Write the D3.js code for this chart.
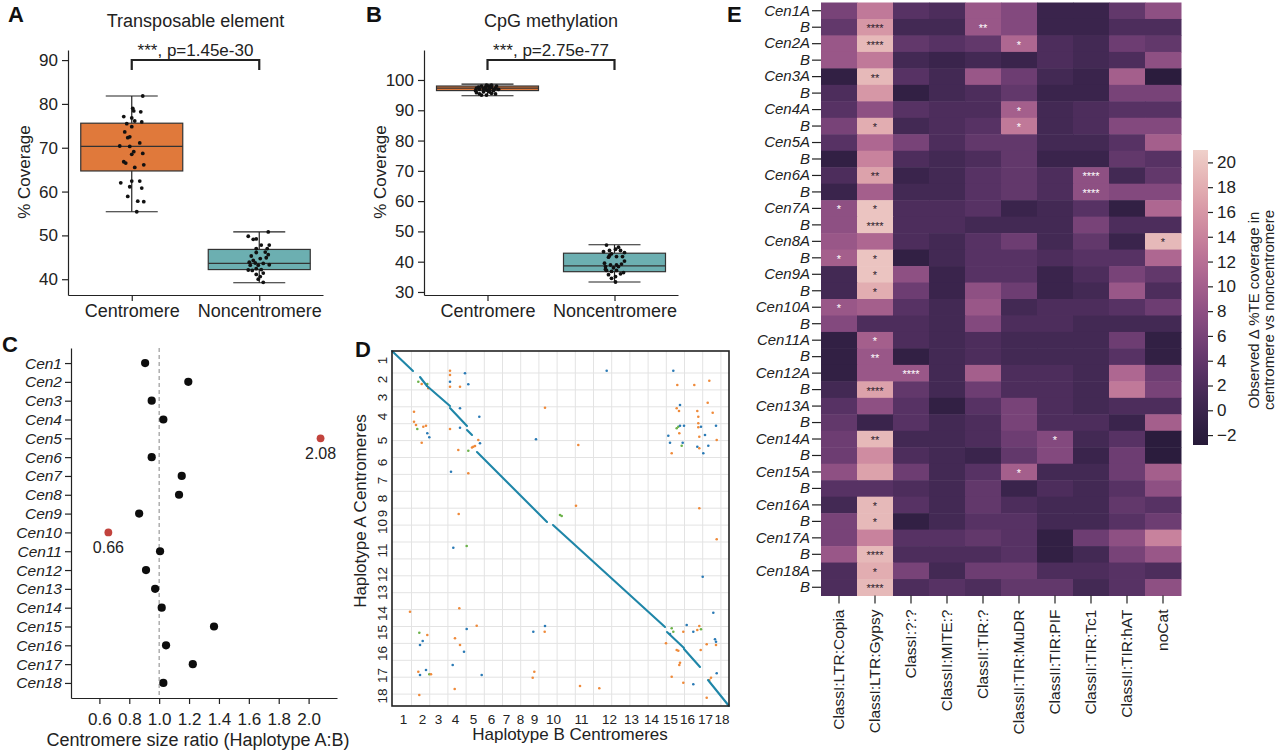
<!DOCTYPE html>
<html>
<head>
<meta charset="utf-8">
<script src="https://cdn.jsdelivr.net/npm/d3@7"></script>
<style>
  body { margin: 0; background: #fff; }
  svg { font-family: "Liberation Sans", Arial, sans-serif; }
</style>
</head>
<body>
<svg id="fig" width="1280" height="755"></svg>
<script>
// ---- data : panels A and B (box plots) ----
const groups = ["Centromere", "Noncentromere"];
// [low whisker, Q1, median, Q3, high whisker]
const teStats = [[55.4, 64.7, 70.3, 75.6, 81.8], [39.2, 42.2, 43.6, 46.8, 50.8]];
const cpgStats = [[94.8, 96.5, 97.3, 98.0, 98.6], [33.3, 36.7, 38.6, 42.8, 45.6]];

const teCenVals = [81.8, 79.0, 78.4, 78.2, 77.1, 76.8, 76.1, 75.9, 75.5, 74.8, 73.6, 72.5, 72.3, 71.1, 70.4, 70.3,
  69.1, 68.5, 68.7, 66.8, 66.5, 65.5, 66.1, 62.0, 62.4, 62.4, 61.1, 60.8, 58.9, 57.8, 57.7, 55.4];
const teCenJit = [11, 1, 2, 9, -8, 0, 3, 10, -5, 0, -7, -2, -4, 8, -12, -2, 2, 0, 11, -8, -6, 3, 12, -11, 0, 8, -2, 10, -4, 6, 12, 5];
const teNonVals = [50.8, 49.8, 49.1, 49.2, 47.8, 47.8, 47.0, 47.0, 46.2, 46.1, 45.6, 44.7, 43.9, 43.7, 43.6, 43.2,
  43.2, 43.3, 42.4, 42.2, 42.1, 42.0, 41.4, 41.1, 40.6, 40.0, 39.3, 44.3, 44.9, 45.3];
const teNonJit = [9, -11, -6, -3, 2, 10, -3, 8, 6, -3, 9, 1, -10, -4, 4, -9, -1, 10, -3, 2, -11, -7, 4, -3, 1, -1, 4, -6, 7, -8];

const cpgCenVals = [96.5, 97.6, 98.0, 97.6, 98.0, 97.6, 97.3, 98.0, 95.8, 95.4, 96.1, 96.7, 96.1, 96.5, 95.0, 95.0,
  95.6, 95.4, 96.9, 97.1, 97.1, 96.7, 96.9, 97.3, 98.3, 98.3];
const cpgCenJit = [-12, -9, -6, -2, 1, 4, 8, 9, -11, -8, -4, -1, 2, 6, -6, -1, 4, 8, -8, -4, 2, 6, 11, -11, -1, 4];
const cpgNonVals = [45.5, 43.3, 43.7, 44.1, 43.7, 43.0, 42.6, 41.7, 41.7, 41.5, 39.5, 38.9, 38.9, 39.2, 38.4, 38.0,
  38.4, 37.1, 36.8, 37.1, 36.4, 35.7, 35.1, 34.5, 33.3, 36.0, 37.5, 40.2, 42.0, 44.8];
const cpgNonJit = [-8, -11, -5, 1, 6, 10, -3, 2, 8, -6, -10, -4, 2, 7, -9, -1, 4, -8, -3, 2, 9, -6, 1, -3, 1, 6, -9, 10, -5, 4];

// ---- data : panel C ----
const cenNames = ["Cen1", "Cen2", "Cen3", "Cen4", "Cen5", "Cen6", "Cen7", "Cen8", "Cen9", "Cen10",
  "Cen11", "Cen12", "Cen13", "Cen14", "Cen15", "Cen16", "Cen17", "Cen18"];
const sizeRatio = [0.906, 1.195, 0.95, 1.028, 2.08, 0.95, 1.151, 1.133, 0.866, 0.66,
  1.006, 0.912, 0.973, 1.017, 1.367, 1.046, 1.225, 1.028];
const ratioOutliers = ["Cen5", "Cen10"];
const ratioTicks = [0.6, 0.8, 1.0, 1.2, 1.4, 1.6, 1.8, 2.0];

// ---- data : panel D (dot plot, positions in arbitrary genome units) ----
const hapBSizes = [22, 16, 16, 18, 18, 18, 12, 16, 12, 26, 30, 26, 18, 22, 16, 18, 18, 15];
const hapASizes = [18, 20, 16, 22, 26, 18, 18, 18, 12, 14, 34, 14, 22, 20, 18, 24, 20, 21];
// main alignment segments [bStart, aStart, bEnd, aEnd]
const diagSegs = [[0, 0, 21, 20], [28, 26, 35, 35], [35, 35, 58, 55], [58, 57, 75, 75], [75, 79, 80, 84],
  [85, 101, 155, 171], [161, 174, 273, 276], [275, 281, 292, 297], [292, 298, 308, 316], [316, 329, 337, 355]];
// off-diagonal hits [b, a, type] (b = blue, o = orange, g = green)
const offDots = [
  [58, 19.7, "o"], [73, 22.3, "b"], [58, 24, "o"], [58, 30.7, "b"], [76.3, 33.3, "b"], [58, 35.7, "o"], [68, 35.7, "o"],
  [26.3, 30.7, "g"], [29.7, 33, "o"], [35.3, 33, "g"], [36.3, 37.3, "o"], [22, 60.7, "o"], [22, 70.7, "o"], [24, 74, "o"],
  [25.3, 78, "g"], [34, 74.7, "o"], [31.3, 75.7, "o"], [35.3, 82.3, "b"], [37.3, 86.3, "b"], [29.7, 91.7, "o"],
  [68, 57.3, "b"], [87.3, 65.7, "b"], [68, 76.7, "b"], [58, 78, "o"], [86.3, 89, "o"], [88, 92.3, "b"],
  [81.3, 95.7, "o"], [83, 95, "o"], [80, 96.5, "o"], [66.3, 99, "o"], [76.3, 99.7, "g"], [76.3, 122.3, "o"], [59, 120.7, "b"],
  [153, 56.7, "o"], [144, 88.3, "b"], [186.3, 94, "o"], [214.7, 19.7, "b"], [184, 154.7, "o"], [168, 164, "g"], [169.7, 165, "g"],
  [281.3, 19.7, "b"], [285.3, 34, "o"], [302.3, 34, "o"], [317.3, 29.7, "o"], [315.7, 51.7, "o"], [320.7, 61.7, "o"],
  [288, 54, "b"], [284.7, 57.3, "o"], [287, 60, "o"], [305.3, 60, "o"], [276.3, 84.7, "b"], [278, 91.7, "b"], [279.7, 102.3, "o"],
  [284.7, 77.3, "g"], [286.3, 75.7, "g"], [288, 74.7, "b"], [292, 74.7, "b"], [287.3, 82.3, "o"], [290.7, 91.7, "b"],
  [289.7, 94.7, "g"], [306.3, 65.7, "o"], [306.3, 72.3, "o"], [306.3, 76.3, "o"], [309, 75.7, "b"], [313, 84, "b"],
  [307.3, 85.7, "o"], [305.3, 95.7, "b"], [307.3, 97.3, "o"], [311.3, 102.3, "b"], [316.3, 94.7, "b"], [324, 74.7, "b"],
  [324.7, 89, "o"], [307.3, 157.3, "o"], [324.7, 188.3, "o"], [310.7, 225.7, "b"], [321.3, 261.7, "b"],
  [74.7, 195, "g"], [61.3, 196.7, "b"], [66.7, 163, "o"], [18, 260.7, "o"], [67.3, 257.3, "o"], [84.7, 274.7, "o"],
  [74.7, 278, "b"], [63, 287.3, "o"], [68, 294, "o"], [72, 300.7, "b"], [60.7, 314, "b"], [62.7, 338, "o"], [89.7, 324, "b"],
  [27.3, 281.7, "g"], [28, 294, "b"], [30.7, 290, "b"], [35.3, 284, "o"], [26.3, 320.7, "o"], [28, 324, "b"], [34, 319, "b"],
  [37.3, 323.3, "g"], [39, 323.3, "o"], [27.3, 344, "o"], [141.3, 280.7, "b"], [153, 275, "b"], [152.7, 280.7, "o"],
  [142.3, 320.7, "o"], [140.7, 326.7, "o"], [188, 335, "o"], [207.3, 337.3, "o"], [279.7, 277.3, "g"], [281.3, 280.7, "g"],
  [291.3, 280.7, "o"], [294.7, 274, "b"], [301.3, 280.7, "b"], [307.3, 275, "o"], [309, 278.3, "g"], [305.3, 279, "o"],
  [278, 283, "b"], [274, 292.3, "o"], [284.7, 299, "o"], [286.3, 299.7, "o"], [288, 311.7, "o"], [287.3, 314, "o"],
  [323, 288.3, "b"], [324, 290.7, "b"], [324, 294, "o"], [314.7, 293.3, "o"], [308.7, 299, "o"], [279.7, 325.7, "o"],
  [291.3, 331.7, "o"], [301.3, 333.3, "b"], [319, 326.7, "o"], [317.3, 329, "o"], [324.7, 322.3, "b"], [314.7, 346.7, "o"]
];

// ---- data : panel E (heatmap) ----
const teClasses = ["ClassI:LTR:Copia", "ClassI:LTR:Gypsy", "ClassI:?:?", "ClassII:MITE:?", "ClassII:TIR:?",
  "ClassII:TIR:MuDR", "ClassII:TIR:PIF", "ClassII:TIR:Tc1", "ClassII:TIR:hAT", "noCat"];
const deltaCov = [
  [6, 13, 3, 2, 9, 7, 0, 0, 4, 8], [4, 16, 1, 1, 9, 7, 0, 0, 2, 2],
  [9, 19, 4, 3, 4, 11, 2, 1, 5, 4], [9, 13, 1, 0, 1, 0, 2, 1, 2, 8],
  [-1, 19, 3, 1, 9, 5, 1, 0, 10, -2], [2, 16, -1, 1, 2, 4, 0, 0, 6, 6],
  [3, 8, 3, 2, 2, 10, 1, 2, 3, 3], [6, 18, 1, 2, 3, 13, 1, 2, 7, 7],
  [3, 11, 6, 2, 4, 4, 1, 1, 3, 10], [-1, 14, 2, 1, 2, 4, 0, 0, 4, 3],
  [2, 17, 0, 1, 3, 4, 2, 8, 1, 4], [0, 10, 1, 1, 3, 4, 2, 8, 7, 7],
  [8, 20, 2, 2, 3, 0, 1, 3, -1, 11], [8, 20, 2, 2, 1, 1, 1, 6, 2, 2],
  [9, 11, 2, 1, 3, 5, 1, 4, 0, 19], [10, 20, -1, 1, 3, 3, 2, 3, 3, 11],
  [1, 20, 8, 0, 3, 3, 0, 2, 6, 4], [1, 18, 5, 0, 8, 5, 0, 1, 9, 2],
  [9, 10, 3, 1, 9, 1, 2, 2, 3, 5], [7, 2, 2, 1, 7, 2, 2, 1, 1, 1],
  [-1, 10, 2, 1, 2, 1, 1, 1, 5, -1], [-1, 9, -1, 1, 2, 1, 1, 1, 3, -1],
  [-1, 9, 9, 1, 10, 2, 2, 1, 11, 5], [1, 17, 4, 1, 5, 2, 2, 1, 13, 6],
  [3, 8, 3, -1, 3, 6, 2, 1, 2, 2], [4, 0, 3, 1, 2, 6, 2, 2, 0, 10],
  [5, 19, 1, 1, 2, 5, 7, 1, 3, -2], [5, 15, 2, 1, 0, 4, 7, 0, 5, -2],
  [8, 17, 5, 1, 3, 10, 1, 1, 5, 10], [3, 3, 2, 1, 4, 0, 2, 1, 3, 8],
  [1, 19, 3, 1, 4, 2, 1, 1, 4, 3], [6, 19, -1, 1, 3, 3, 1, 1, 3, 5],
  [6, 14, 3, 3, 4, 3, -1, 5, 8, 14], [9, 19, 2, 2, 2, 3, -1, 1, 6, 9],
  [2, 18, 6, 1, 5, 5, 2, 2, 3, 2], [2, 19, 2, 3, 2, 4, 4, 1, 3, 8]
];
// [row, column, label]
const sigMarks = [
  [12, 0, "*"], [15, 0, "*"], [18, 0, "*"],
  [1, 1, "****"], [2, 1, "****"], [4, 1, "**"], [7, 1, "*"], [10, 1, "**"], [12, 1, "*"], [13, 1, "****"],
  [15, 1, "*"], [16, 1, "*"], [17, 1, "*"], [20, 1, "*"], [21, 1, "**"], [23, 1, "****"], [26, 1, "**"],
  [30, 1, "*"], [31, 1, "*"], [33, 1, "****"], [34, 1, "*"], [35, 1, "****"],
  [22, 2, "****"], [1, 4, "**"], [2, 5, "*"], [6, 5, "*"], [7, 5, "*"], [28, 5, "*"],
  [26, 6, "*"], [10, 7, "****"], [11, 7, "****"], [14, 9, "*"]
];
const cbarTicks = [-2, 0, 2, 4, 6, 8, 10, 12, 14, 16, 18, 20];

const svg = d3.select("#fig");
svg.append("rect").attr("width", 1280).attr("height", 755).attr("fill", "#fff");
const ink = "#222";

function tidy(g, fs) {
  g.selectAll("text").attr("font-size", fs).attr("fill", ink);
  g.selectAll("line, path").attr("stroke", ink).attr("stroke-width", 1.2);
}
function letter(t, x, y) {
  svg.append("text").attr("x", x).attr("y", y).text(t)
    .attr("font-size", 22).attr("font-weight", "bold").attr("fill", "#111");
}

// ---- box plot panels ----
function boxPanel(opt) {
  const y = d3.scaleLinear().domain(opt.ydom).range([295, 50]);
  const x = d3.scalePoint().domain(groups).range([opt.x0, opt.x1]).padding(0.5);
  const g = svg.append("g");
  const fills = ["#e0793b", "#6cafb1"];

  groups.forEach((grp, i) => {
    const s = opt.stats[i], cx = x(grp);
    g.append("line").attr("x1", cx).attr("x2", cx).attr("y1", y(s[0])).attr("y2", y(s[4]))
      .attr("stroke", ink).attr("stroke-width", 1.2);
    [s[0], s[4]].forEach(v => g.append("line").attr("x1", cx - 26).attr("x2", cx + 26)
      .attr("y1", y(v)).attr("y2", y(v)).attr("stroke", ink).attr("stroke-width", 1.2));
    g.append("rect").attr("x", cx - 51).attr("width", 102)
      .attr("y", y(s[3])).attr("height", y(s[1]) - y(s[3]))
      .attr("fill", fills[i]).attr("stroke", "#333").attr("stroke-width", 1.2);
    g.append("line").attr("x1", cx - 51).attr("x2", cx + 51).attr("y1", y(s[2])).attr("y2", y(s[2]))
      .attr("stroke", "#333").attr("stroke-width", 1.2);
    const vals = opt.vals[i], jit = opt.jit[i];
    g.selectAll(null).data(vals).join("circle")
      .attr("cx", (d, k) => cx + jit[k]).attr("cy", d => y(d)).attr("r", 1.9).attr("fill", "#111");
  });

  const ya = svg.append("g").attr("transform", `translate(${opt.x0},0)`)
    .call(d3.axisLeft(y).tickValues(opt.ticks).tickSize(6).tickPadding(4).tickSizeOuter(0));
  tidy(ya, 17);
  const xa = svg.append("g").attr("transform", "translate(0,295)")
    .call(d3.axisBottom(x).tickSize(6).tickPadding(3).tickSizeOuter(0));
  tidy(xa, 18);

  svg.append("text").attr("transform", `translate(${opt.x0 - 38},172) rotate(-90)`)
    .attr("text-anchor", "middle").attr("font-size", 17).attr("fill", ink).text("% Coverage");
  svg.append("text").attr("x", (x(groups[0]) + x(groups[1])) / 2).attr("y", 27)
    .attr("text-anchor", "middle").attr("font-size", 18).attr("fill", ink).text(opt.title);

  const bx0 = x(groups[0]), bx1 = x(groups[1]);
  svg.append("path").attr("d", `M${bx0},70V60H${bx1}V70`).attr("fill", "none")
    .attr("stroke", ink).attr("stroke-width", 2.2);
  svg.append("text").attr("x", (bx0 + bx1) / 2).attr("y", 56).attr("text-anchor", "middle")
    .attr("font-size", 17).attr("fill", ink).text(opt.pText);
}

boxPanel({ x0: 68, x1: 323, ydom: [36.4, 92.3], ticks: [40, 50, 60, 70, 80, 90],
  stats: teStats, vals: [teCenVals, teNonVals], jit: [teCenJit, teNonJit],
  title: "Transposable element", pText: "***, p=1.45e-30" });
boxPanel({ x0: 424, x1: 678, ydom: [29, 109.9], ticks: [30, 40, 50, 60, 70, 80, 90, 100],
  stats: cpgStats, vals: [cpgCenVals, cpgNonVals], jit: [cpgCenJit, cpgNonJit],
  title: "CpG methylation", pText: "***, p=2.75e-77" });
letter("A", 8, 22);
letter("B", 366, 22);

// ---- panel C ----
const xC = d3.scaleLinear().domain([0.41, 2.19]).range([71, 337]);
const yC = d3.scalePoint().domain(cenNames).range([348, 698]).padding(0.8);
svg.append("line").attr("x1", xC(1)).attr("x2", xC(1)).attr("y1", 348).attr("y2", 698)
  .attr("stroke", "#9a9a9a").attr("stroke-width", 1.2).attr("stroke-dasharray", "4,3");
const cy = svg.append("g").attr("transform", "translate(71,0)")
  .call(d3.axisLeft(yC).tickSize(6).tickPadding(3).tickSizeOuter(0));
tidy(cy, 15.5);
cy.selectAll("text").attr("font-style", "italic");
const cx = svg.append("g").attr("transform", "translate(0,698)")
  .call(d3.axisBottom(xC).tickValues(ratioTicks).tickFormat(d3.format(".1f")).tickSize(6).tickPadding(9).tickSizeOuter(0));
tidy(cx, 17);
svg.selectAll(null).data(cenNames).join("circle")
  .attr("cx", (d, i) => xC(sizeRatio[i])).attr("cy", d => yC(d))
  .attr("r", d => ratioOutliers.includes(d) ? 3.9 : 4.1)
  .attr("fill", d => ratioOutliers.includes(d) ? "#c2433d" : "#0d0d0d");
svg.selectAll(null).data(ratioOutliers).join("text")
  .attr("x", d => xC(sizeRatio[cenNames.indexOf(d)])).attr("y", d => yC(d) + 21)
  .attr("text-anchor", "middle").attr("font-size", 16).attr("fill", ink)
  .text(d => sizeRatio[cenNames.indexOf(d)].toFixed(2));
svg.append("text").attr("x", 198).attr("y", 746).attr("text-anchor", "middle")
  .attr("font-size", 18).attr("fill", ink).text("Centromere size ratio (Haplotype A:B)");
letter("C", 2, 352);

// ---- panel D ----
const bEnds = d3.cumsum(hapBSizes), aEnds = d3.cumsum(hapASizes);
const bMid = hapBSizes.map((s, i) => bEnds[i] - s / 2);
const aMid = hapASizes.map((s, i) => aEnds[i] - s / 2);
const xD = d3.scaleLinear().domain([0, d3.sum(hapBSizes)]).range([392, 729]);
const yD = d3.scaleLinear().domain([0, d3.sum(hapASizes)]).range([351, 706]);
const dg = svg.append("g");
dg.selectAll(null).data(d3.range(19.5, 337, 18.2)).join("line")
  .attr("x1", d => xD(d)).attr("x2", d => xD(d)).attr("y1", 351).attr("y2", 706)
  .attr("stroke", "#e3e3e3").attr("stroke-width", 1);
dg.selectAll(null).data(d3.range(22, 355, 16.9)).join("line")
  .attr("y1", d => yD(d)).attr("y2", d => yD(d)).attr("x1", 392).attr("x2", 729)
  .attr("stroke", "#e3e3e3").attr("stroke-width", 1);
const dotColor = { b: "#2a7ab5", o: "#ef8a3a", g: "#6cb24a" };
dg.selectAll(null).data(offDots).join("circle")
  .attr("cx", d => xD(d[0])).attr("cy", d => yD(d[1])).attr("r", 1.3)
  .attr("fill", d => dotColor[d[2]]);
dg.selectAll(null).data(diagSegs).join("line")
  .attr("x1", d => xD(d[0])).attr("y1", d => yD(d[1])).attr("x2", d => xD(d[2])).attr("y2", d => yD(d[3]))
  .attr("stroke", "#1f86a8").attr("stroke-width", 2.1).attr("stroke-linecap", "round");
svg.append("rect").attr("x", 392).attr("y", 351).attr("width", 337).attr("height", 355)
  .attr("fill", "none").attr("stroke", ink).attr("stroke-width", 1.6);
const dx = svg.append("g").attr("transform", "translate(0,706)")
  .call(d3.axisBottom(xD).tickValues(bMid).tickFormat((d, i) => i + 1).tickSize(0).tickPadding(8));
dx.select(".domain").remove();
tidy(dx, 13.5);
const dy = svg.append("g").attr("transform", "translate(392,0)")
  .call(d3.axisLeft(yD).tickValues(aMid).tickFormat((d, i) => i + 1).tickSize(0));
dy.select(".domain").remove();
tidy(dy, 13.5);
dy.selectAll("text").attr("x", 0).attr("y", -5).attr("dy", 0)
  .attr("text-anchor", "middle").attr("transform", "rotate(-90)");
svg.append("text").attr("x", 570).attr("y", 740).attr("text-anchor", "middle")
  .attr("font-size", 17).attr("fill", ink).text("Haplotype B Centromeres");
svg.append("text").attr("transform", "translate(366,511) rotate(-90)").attr("text-anchor", "middle")
  .attr("font-size", 17).attr("fill", ink).text("Haplotype A Centromeres");
letter("D", 355, 357);

// ---- panel E ----
const cbarDom = [-2.8, 21];
function heatColor(v) {
  // seaborn-like cubehelix palette, dark at low values
  const t = Math.max(0, Math.min(1, (v - cbarDom[0]) / (cbarDom[1] - cbarDom[0])));
  const x = 0.13 + 0.72 * Math.pow(t, 1.2);
  const a = 0.85 * x * (1 - x) / 2;
  const phi = 2 * Math.PI * (0.4 * x);
  const c = Math.cos(phi), s = Math.sin(phi);
  const r = x + a * (-0.14861 * c + 1.78277 * s);
  const g = x + a * (-0.29227 * c - 0.90649 * s);
  const b = x + a * (1.97294 * c);
  const f = u => Math.round(255 * Math.max(0, Math.min(1, u)));
  return `rgb(${f(r)},${f(g)},${f(b)})`;
}
const rowKeys = cenNames.flatMap(c => [c + "A", c + "B"]);
const xE = d3.scaleBand().domain(teClasses).range([821, 1181]);
const yE = d3.scaleBand().domain(rowKeys).range([2.5, 595.5]);
const eg = svg.append("g");
rowKeys.forEach((rk, r) => {
  teClasses.forEach((tc, c) => {
    eg.append("rect").attr("x", xE(tc)).attr("y", yE(rk))
      .attr("width", xE.bandwidth() + 0.5).attr("height", yE.bandwidth() + 0.5)
      .attr("fill", heatColor(deltaCov[r][c]));
  });
});
eg.selectAll(null).data(sigMarks).join("text")
  .attr("x", d => xE(teClasses[d[1]]) + xE.bandwidth() / 2)
  .attr("y", d => yE(rowKeys[d[0]]) + yE.bandwidth() / 2 + 5)
  .attr("text-anchor", "middle").attr("font-size", 11)
  .attr("fill", d => deltaCov[d[0]][d[1]] >= 14 ? "#2a1a2a" : "#fff")
  .text(d => d[2]);
const ey = svg.append("g").attr("transform", "translate(821,0)")
  .call(d3.axisLeft(yE).tickSize(9).tickPadding(2).tickFormat(d => d.endsWith("B") ? "B" : d));
ey.select(".domain").remove();
tidy(ey, 15);
ey.selectAll("text").attr("font-style", "italic");
const ex = svg.append("g").attr("transform", "translate(0,595.5)")
  .call(d3.axisBottom(xE).tickSize(8));
ex.select(".domain").remove();
tidy(ex, 15.5);
ex.selectAll("text").attr("transform", "rotate(-90)").attr("text-anchor", "end")
  .attr("x", -14).attr("y", 0).attr("dy", "0.35em");

// colour bar
const yCb = d3.scaleLinear().domain(cbarDom).range([445, 150]);
const grad = svg.append("defs").append("linearGradient").attr("id", "cb")
  .attr("x1", 0).attr("x2", 0).attr("y1", 1).attr("y2", 0);
d3.range(0, 1.0001, 0.05).forEach(t => grad.append("stop").attr("offset", t)
  .attr("stop-color", heatColor(cbarDom[0] + t * (cbarDom[1] - cbarDom[0]))));
svg.append("rect").attr("x", 1193).attr("y", 150).attr("width", 15).attr("height", 295).attr("fill", "url(#cb)");
const cba = svg.append("g").attr("transform", "translate(1208,0)")
  .call(d3.axisRight(yCb).tickValues(cbarTicks).tickSize(5).tickPadding(4));
cba.select(".domain").remove();
tidy(cba, 17);
const cbl = svg.append("text").attr("transform", "translate(1259,310) rotate(-90)")
  .attr("text-anchor", "middle").attr("font-size", 15).attr("fill", ink);
cbl.append("tspan").attr("x", 0).attr("dy", 0).text("Observed Δ %TE coverage in");
cbl.append("tspan").attr("x", 0).attr("dy", 15).text("centromere vs noncentromere");
letter("E", 727, 22);
</script>
</body>
</html>
